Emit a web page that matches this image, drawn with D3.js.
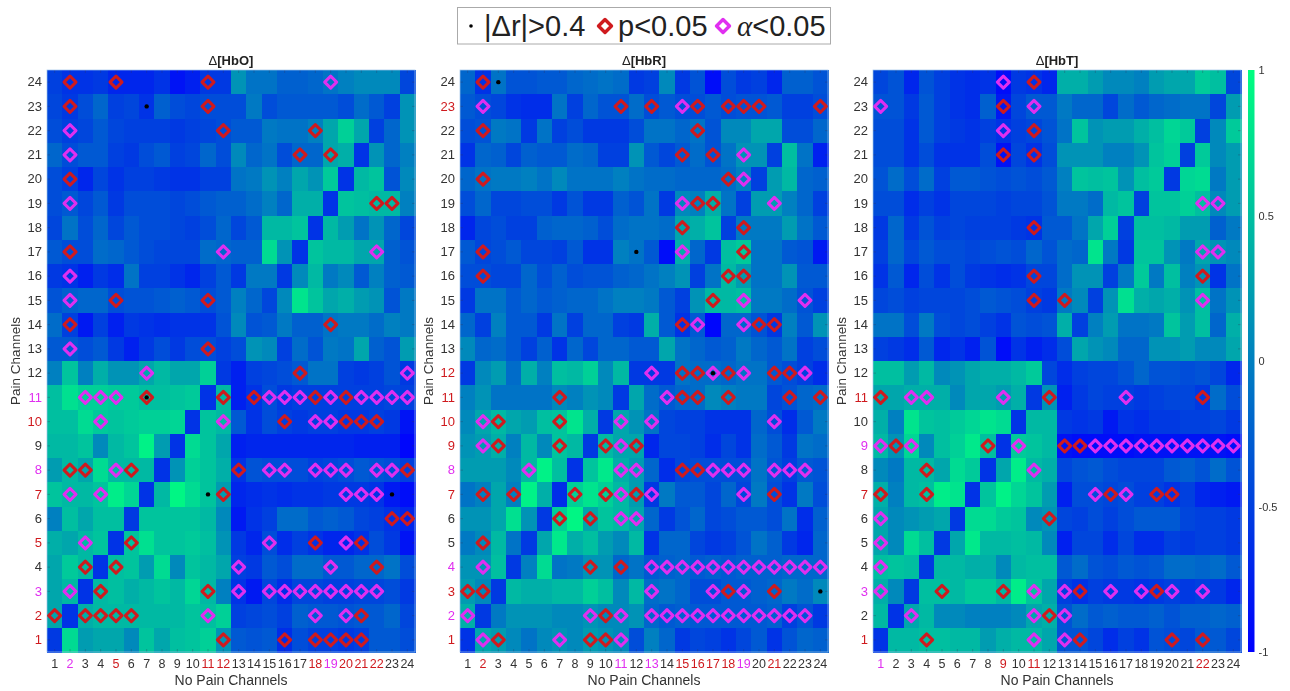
<!DOCTYPE html>
<html>
<head>
<meta charset="utf-8">
<script src="https://cdn.jsdelivr.net/npm/d3@7"></script>
<style>
  html, body { margin: 0; background: #fff; }
  svg { display: block; font-family: "Liberation Sans", Arial, sans-serif; filter: blur(0.5px); }
</style>
</head>
<body>
<svg id="chart" width="1290" height="691"></svg>
<script>
const channels = d3.range(1, 25);

// each list runs from channel 24 (top row) to channel 1, columns 1 to 24
const hboValues = [
  [-.5,-.6,-.6,-.55,-.7,-.7,-.7,-.6,-.85,-.75,-.55,-.55,.1,-.1,-.1,-.25,-.25,-.2,-.1,0,.05,.05,.05,-.45],
  [-.45,-.55,-.4,-.2,-.5,-.45,-.6,-.25,-.4,-.45,-.4,-.4,-.4,-.05,-.4,-.3,-.3,-.3,-.3,-.4,-.15,-.3,-.5,.1],
  [-.4,-.5,-.45,-.3,-.45,-.5,-.5,-.5,-.55,-.5,-.45,-.4,-.3,-.3,-.05,-.1,-.1,0,.2,.5,.2,-.5,-.2,.1],
  [-.2,-.4,-.3,-.3,-.5,-.55,-.4,-.3,-.5,-.45,-.2,-.4,.05,-.2,-.1,-.4,-.2,-.2,.2,.25,-.6,.1,-.2,0],
  [-.4,-.5,-.7,-.45,-.6,-.5,-.5,-.55,-.6,-.6,-.5,-.5,-.1,-.05,.1,0,.2,.1,.45,-.6,.3,.4,-.35,.05],
  [-.4,-.3,-.45,-.3,-.55,-.4,-.4,-.4,-.45,-.4,-.3,-.25,-.25,-.15,0,-.2,.25,.25,-.6,.4,.35,.3,.3,0],
  [-.45,-.1,-.4,-.2,-.45,-.3,-.4,-.4,-.45,-.5,-.4,-.2,-.45,-.3,.3,.3,.4,-.6,.3,.15,-.1,.1,-.2,-.45],
  [-.3,-.4,-.4,-.15,-.2,-.3,-.4,-.45,-.45,-.45,-.15,-.2,-.25,-.25,.6,.1,-.6,.4,.3,.3,.2,.2,-.25,-.35],
  [-.55,-.6,-.75,-.55,-.65,-.1,-.5,-.5,-.6,-.7,-.5,-.3,-.55,-.05,-.05,-.55,.05,.3,-.05,.05,-.3,0,-.25,-.3],
  [-.35,-.25,-.2,-.2,-.4,-.35,-.35,-.3,-.25,-.3,-.4,-.3,0,-.2,-.45,.05,.7,.4,.2,.25,.15,.1,-.35,-.05],
  [-.15,-.5,-.8,-.5,-.75,-.55,-.6,-.65,-.6,-.6,-.6,-.35,.05,-.35,-.3,-.05,-.25,-.25,-.1,-.05,-.05,-.15,0,-.05],
  [-.3,-.3,-.4,-.3,-.55,-.75,-.55,-.4,-.55,-.4,-.4,-.5,-.4,.1,.05,-.5,-.15,-.35,-.05,-.1,.2,-.25,-.35,.15],
  [0,.4,0,.25,.1,.1,.2,.3,.2,.2,.5,-.55,-.75,-.5,-.45,-.4,-.3,-.1,-.1,-.5,-.55,-.5,-.35,-.55],
  [.35,.65,.5,.5,.45,.45,.35,.35,.4,.45,-.6,.3,-.75,-.6,-.4,-.55,-.5,-.5,-.5,-.5,-.5,-.5,-.45,-.5],
  [.35,.35,.6,.45,.4,.45,.5,.5,.55,-.6,.4,.3,-.3,-.6,-.4,-.5,-.55,-.5,-.5,-.55,-.55,-.5,-.55,-.85],
  [.3,.3,.4,.05,.3,.4,.85,.15,-.6,.6,.4,.2,-.75,-.7,-.7,-.7,-.7,-.7,-.7,-.7,-.75,-.75,-.75,-.95],
  [.15,.3,.2,.6,.3,.3,.3,-.6,.1,.5,.4,.25,-.6,-.35,-.4,-.4,-.4,-.5,-.45,-.4,-.3,-.35,-.4,-.5],
  [.4,.3,.3,.4,.8,.55,-.6,.3,.9,.6,.4,.15,-.7,-.65,-.6,-.65,-.6,-.6,-.55,-.55,-.55,-.6,-.8,-.9],
  [0,.35,.2,.35,.35,-.55,.4,.4,.4,.4,.3,.05,-.8,-.6,-.5,-.15,-.15,-.3,-.25,-.3,-.45,-.5,-.6,-.7],
  [.25,.2,.3,.4,-.6,.4,.65,.4,.4,.45,.35,.1,-.55,-.7,-.4,-.65,-.5,-.6,-.7,-.7,-.6,-.4,-.55,-.85],
  [.2,.45,.3,-.6,.35,.4,.15,.6,.05,.4,.3,.2,-.5,-.55,-.3,-.4,-.15,-.15,-.3,-.3,-.2,-.2,-.1,-.4],
  [.2,.3,-.6,.3,.35,.25,.3,.4,.3,.55,.3,0,-.6,-.8,-.45,-.65,-.45,-.45,-.5,-.5,-.45,-.45,-.4,-.55],
  [.2,-.6,.25,.3,.3,.3,.3,.3,.3,.4,.35,.5,-.5,-.45,-.4,-.5,-.25,-.3,-.3,-.35,-.3,-.3,-.2,-.45],
  [-.55,.6,.15,.2,.2,.05,.4,.2,.35,.4,.5,.1,-.3,-.35,-.3,-.65,-.4,-.5,-.5,-.55,-.5,-.3,-.3,-.4]
];
const hbrValues = [
  [-.2,-.6,-.1,-.35,-.35,-.3,-.3,-.2,-.15,-.1,-.15,-.55,-.5,.05,-.55,-.35,-.9,-.4,-.55,-.5,-.7,-.25,-.25,-.35],
  [-.3,-.4,-.45,-.6,-.65,-.65,-.1,-.5,-.2,-.35,-.35,-.15,-.4,-.3,-.4,-.4,-.3,-.4,-.35,-.35,-.3,-.5,-.5,-.4],
  [-.4,-.35,-.05,-.1,-.55,-.1,-.5,-.4,-.55,-.55,-.55,-.4,-.1,-.1,-.2,-.1,-.35,.05,.05,.2,.2,-.4,-.4,-.2],
  [-.6,-.2,-.25,-.45,-.25,-.3,-.3,-.15,-.2,-.5,-.5,.1,-.3,-.45,-.3,-.15,-.35,-.1,.1,.1,-.5,.35,-.1,-.75],
  [-.2,-.1,-.05,-.05,0,-.1,.05,-.1,-.1,-.1,0,-.1,-.15,-.15,-.2,-.2,-.2,-.15,0,-.5,.15,.3,-.2,-.25],
  [-.4,-.2,-.45,-.45,-.4,-.4,-.55,-.35,-.55,-.55,-.25,-.35,-.1,-.55,.05,0,.25,-.1,-.5,.15,.15,0,-.2,-.5],
  [-.7,-.45,-.4,-.5,-.5,-.25,-.2,-.2,-.25,-.4,-.15,-.1,-.1,-.15,.2,.25,.4,-.5,-.05,-.05,-.05,.15,-.1,-.3],
  [-.3,-.45,-.4,-.3,-.45,-.45,-.5,-.3,-.6,-.6,0,-.1,-.3,-.9,.25,-.2,-.55,.35,.45,-.1,-.1,-.3,-.35,-.8],
  [-.4,-.4,-.45,-.45,-.2,-.4,-.25,-.4,-.35,-.35,-.25,-.2,-.1,0,.1,-.5,-.1,.3,.15,-.1,-.1,.1,-.3,-.3],
  [-.55,-.1,-.1,-.3,-.2,-.3,-.25,-.2,-.2,-.1,0,0,-.05,-.3,-.5,.1,.3,.3,.35,-.05,-.05,-.15,-.35,-.5],
  [-.2,-.5,0,-.3,-.3,-.55,-.1,-.5,-.2,-.2,-.5,-.55,.25,-.3,-.6,-.3,-.95,-.2,-.2,-.35,-.55,0,-.3,.1],
  [.05,-.2,-.15,-.3,-.5,-.25,-.6,-.2,-.45,-.2,-.2,-.3,-.3,.2,-.1,-.2,-.3,-.25,-.05,-.2,-.3,-.1,-.5,-.4],
  [-.55,.05,.15,-.15,.25,0,.35,.3,.5,.05,.3,-.55,-.55,-.55,-.1,-.15,-.15,-.2,-.1,-.1,-.3,-.4,-.5,-.65],
  [0,.1,-.1,-.1,-.1,-.1,.05,0,.1,.05,-.55,.2,-.15,-.3,-.2,-.15,.05,0,-.05,-.05,-.45,-.35,-.2,-.15],
  [.05,.2,.3,.2,.15,.35,.4,.7,.25,-.55,.2,.1,-.1,-.45,-.5,-.5,-.6,-.6,-.6,-.2,-.4,-.65,-.3,-.05],
  [.1,.15,.25,0,.3,.05,.4,.3,-.55,.3,.2,.2,-.7,-.45,-.45,-.5,-.65,-.45,-.6,-.15,-.3,-.55,-.1,-.15],
  [.15,.15,.15,.05,.3,.85,.35,-.6,.4,.75,.25,.15,-.2,-.65,-.45,-.4,-.4,-.4,-.4,-.1,-.35,-.5,-.3,-.35],
  [-.1,0,.2,0,.85,.25,-.65,.5,.7,.5,.3,.15,-.55,-.05,-.3,-.3,-.45,-.2,-.45,-.05,-.4,-.6,-.05,-.4],
  [.1,.1,.2,.65,.1,-.55,.5,.9,.2,.4,.3,.2,-.2,-.55,-.35,-.2,-.45,-.4,-.3,-.3,-.4,-.1,-.65,-.25],
  [-.05,.05,.3,-.1,-.55,.2,.75,.25,.35,.15,.05,.3,-.6,-.2,-.2,-.45,-.55,-.5,-.35,-.1,-.25,-.55,-.7,-.2],
  [.1,.1,.35,-.55,0,.6,-.1,-.05,.1,.1,-.2,-.1,-.3,-.25,-.2,-.3,-.25,-.3,-.25,-.25,-.25,-.2,-.2,-.2],
  [.15,.05,-.55,.3,.25,.25,.3,.3,.5,.35,.05,.3,-.15,-.1,-.2,-.4,-.4,-.3,-.3,-.25,-.2,-.05,-.15,.05],
  [.25,-.55,-.05,.1,.1,.1,.05,.05,.1,.05,.05,.1,-.2,-.3,-.25,-.3,-.3,-.3,-.3,-.3,-.25,-.5,-.35,-.55],
  [-.6,.2,.15,.05,-.1,.05,.1,.05,.15,.1,.05,-.4,0,-.2,-.55,-.45,-.5,-.6,-.45,-.3,-.6,-.35,-.2,-.25]
];
const hbtValues = [
  [-.45,-.35,-.7,-.35,-.5,-.6,-.65,-.6,-.9,-.55,-.6,-.7,.25,.25,.15,.05,.05,0,.15,.2,.2,.45,.35,-.45],
  [-.35,-.35,-.55,-.3,-.5,-.6,-.65,-.25,-.8,-.45,-.3,-.3,-.05,-.2,-.2,-.45,-.15,-.3,-.2,-.15,-.1,-.1,-.45,.15],
  [-.4,-.4,-.6,-.3,-.5,-.55,-.6,-.5,-.6,-.5,-.45,-.35,-.1,.4,.1,.15,.15,.25,.35,.55,.45,-.5,.05,.45],
  [-.4,-.4,-.6,-.4,-.6,-.6,-.6,-.4,-.85,-.45,-.6,-.4,.1,.1,.1,0,0,.1,.4,.5,-.5,.45,.05,.15],
  [-.35,-.15,-.4,-.15,-.5,-.3,-.3,-.35,-.4,-.35,-.4,-.3,0,.4,.35,.4,.1,.35,.45,-.55,.55,.6,-.05,.15],
  [-.4,-.4,-.65,-.5,-.6,-.45,-.45,-.45,-.5,-.45,-.45,-.35,-.05,-.05,-.15,.3,.4,-.5,.4,.4,.5,.35,.05,.15],
  [-.55,-.2,-.55,-.35,-.5,-.45,-.5,-.5,-.5,-.55,-.6,-.3,-.3,-.1,.2,.5,-.5,.35,.35,.3,.15,.15,-.25,-.05],
  [-.5,-.2,-.45,-.3,-.4,-.4,-.45,-.4,-.35,-.4,-.2,-.35,-.15,-.2,.7,-.05,-.55,.4,.4,.1,-.05,.2,.1,.05],
  [-.6,-.3,-.7,-.4,-.6,-.4,-.55,-.6,-.65,-.6,-.45,-.45,-.15,.1,.1,-.5,-.05,.45,-.05,.35,0,.1,-.6,-.1],
  [-.45,-.4,-.5,-.45,-.45,-.45,-.4,-.3,-.35,-.4,-.5,-.55,-.05,.05,-.5,.1,.65,.25,.2,.25,.1,.35,-.1,.1],
  [-.1,-.1,-.4,-.05,-.4,-.45,-.4,-.5,-.6,-.35,-.4,-.35,.25,-.5,0,.15,-.1,-.1,-.05,.4,.15,.35,-.2,.25],
  [-.5,-.55,-.65,-.3,-.7,-.6,-.75,-.35,-.9,-.6,-.75,-.65,-.4,.2,.1,.05,-.2,-.2,.1,.1,.15,.05,.05,.2],
  [.35,.35,.15,.3,.05,.1,.2,.25,.25,.3,.45,-.45,-.65,-.5,-.45,-.45,-.35,-.2,-.35,-.35,-.4,-.35,-.45,-.7],
  [.2,.2,.25,.25,.25,.05,.2,.2,.15,.25,-.55,.1,-.75,-.55,-.45,-.5,-.5,-.55,-.5,-.45,-.45,-.55,-.15,-.4],
  [.25,0,.7,.4,.35,.45,.55,.7,.6,-.6,.3,.3,-.55,-.6,-.55,-.8,-.6,-.65,-.55,-.55,-.5,-.5,-.45,-.55],
  [.3,.1,.55,.05,.35,.5,.75,.35,-.6,.45,.4,.3,-.85,-.9,-.9,-.9,-.9,-.85,-.85,-.85,-.85,-.85,-.85,-.9],
  [.05,-.05,.3,.3,.2,.6,.45,-.6,.2,.8,.3,.25,-.45,-.35,-.3,-.4,-.45,-.45,-.45,-.3,-.25,-.35,-.15,-.35],
  [.25,0,.3,.35,.8,.7,-.6,.4,.85,.55,.4,.15,-.75,-.4,-.4,-.45,-.4,-.5,-.5,-.6,-.5,-.7,-.75,-.8],
  [.2,.05,.1,.15,.2,-.55,.6,.6,.45,.4,.05,.1,-.45,-.5,-.4,-.5,-.4,-.3,-.3,-.3,-.45,-.5,-.5,-.55],
  [.2,.05,.6,.35,-.55,.2,.75,.3,.3,.35,.3,.05,-.75,-.45,-.45,-.65,-.45,-.65,-.65,-.5,-.55,-.5,-.5,-.55],
  [.35,.4,.35,-.55,.3,.3,.25,.25,.05,.3,.35,.35,-.3,-.15,-.35,-.4,-.3,-.35,-.3,-.15,-.15,-.2,-.15,-.3],
  [.25,.05,-.55,.35,.35,.3,.45,.45,.3,.8,.4,.2,-.5,-.6,-.5,-.55,-.55,-.6,-.55,-.5,-.55,-.5,-.55,-.7],
  [.3,-.6,.2,.3,.05,.05,0,0,0,.05,.2,.25,-.35,-.15,-.3,-.25,-.3,-.3,-.25,-.35,-.25,-.25,-.2,-.25],
  [-.6,.3,.3,.35,.35,.3,.3,.15,.25,.3,.3,.2,-.35,-.35,-.45,-.65,-.5,-.6,-.35,-.4,-.45,-.3,-.3,-.45]
];

// significance marks: [no pain channel, pain channel]
const hboP = [[2,24],[5,24],[11,24],[2,23],[11,23],[12,22],[18,22],[17,21],[19,21],[2,20],[22,19],[23,19],[2,17],[5,15],[11,15],[2,14],[19,14],[11,13],[17,12],[7,11],[12,11],[14,11],[18,11],[20,11],[16,10],[20,10],[21,10],[22,10],[2,8],[3,8],[6,8],[13,8],[24,8],[12,7],[23,6],[24,6],[6,5],[18,5],[21,5],[3,4],[5,4],[22,4],[4,3],[11,3],[1,2],[3,2],[4,2],[5,2],[6,2],[21,2],[12,1],[16,1],[18,1],[19,1],[20,1],[21,1]];
const hboAlpha = [[19,24],[2,22],[2,21],[2,19],[12,17],[22,17],[2,16],[2,15],[2,13],[7,12],[24,12],[3,11],[4,11],[5,11],[15,11],[16,11],[17,11],[19,11],[21,11],[22,11],[23,11],[24,11],[4,10],[12,10],[18,10],[19,10],[5,8],[15,8],[16,8],[18,8],[19,8],[20,8],[22,8],[23,8],[2,7],[4,7],[20,7],[21,7],[22,7],[3,5],[15,5],[20,5],[13,4],[19,4],[2,3],[13,3],[15,3],[16,3],[17,3],[18,3],[19,3],[20,3],[21,3],[22,3],[11,2],[18,2],[20,2]];
const hboDots = [[7,23],[7,11],[11,7],[23,7]];
const hbrP = [[2,24],[11,23],[13,23],[16,23],[18,23],[19,23],[20,23],[24,23],[2,22],[16,22],[15,21],[17,21],[2,20],[18,20],[16,19],[17,19],[15,18],[19,18],[2,17],[19,17],[2,16],[18,16],[19,16],[17,15],[15,14],[20,14],[21,14],[15,12],[16,12],[18,12],[21,12],[22,12],[7,11],[15,11],[16,11],[18,11],[22,11],[24,11],[3,10],[7,10],[3,9],[7,9],[10,9],[12,9],[15,8],[16,8],[2,7],[4,7],[8,7],[10,7],[12,7],[21,7],[7,6],[9,6],[2,5],[9,4],[11,4],[1,3],[2,3],[18,3],[21,3],[10,2],[3,1],[9,1],[10,1]];
const hbrAlpha = [[2,23],[15,23],[19,21],[19,20],[15,19],[21,19],[15,17],[19,15],[23,15],[16,14],[19,14],[13,12],[17,12],[19,12],[23,12],[14,11],[2,10],[11,10],[13,10],[21,10],[2,9],[11,9],[5,8],[11,8],[12,8],[17,8],[18,8],[19,8],[21,8],[22,8],[23,8],[11,7],[13,7],[19,7],[11,6],[12,6],[2,4],[13,4],[14,4],[15,4],[16,4],[17,4],[18,4],[19,4],[20,4],[21,4],[22,4],[23,4],[24,4],[13,3],[17,3],[19,3],[1,2],[9,2],[11,2],[13,2],[14,2],[15,2],[16,2],[17,2],[18,2],[19,2],[20,2],[21,2],[22,2],[23,2],[2,1],[7,1],[11,1]];
const hbrDots = [[3,24],[12,17],[17,12],[24,3]];
const hbtP = [[11,24],[9,23],[11,22],[9,21],[11,21],[11,18],[11,16],[22,16],[11,15],[13,15],[1,11],[12,11],[22,11],[2,9],[8,9],[13,9],[14,9],[4,8],[1,7],[4,7],[16,7],[19,7],[20,7],[12,6],[5,3],[9,3],[14,3],[19,3],[12,2],[4,1],[14,1],[20,1],[22,1]];
const hbtAlpha = [[9,24],[1,23],[11,23],[9,22],[22,19],[23,19],[22,17],[23,17],[22,15],[3,11],[4,11],[9,11],[17,11],[1,9],[3,9],[10,9],[15,9],[16,9],[17,9],[18,9],[19,9],[20,9],[21,9],[22,9],[23,9],[24,9],[11,8],[15,7],[17,7],[1,6],[1,5],[1,4],[1,3],[11,3],[13,3],[16,3],[18,3],[20,3],[22,3],[3,2],[11,2],[13,2],[11,1],[13,1]];
const hbtDots = [];

// coloured tick labels
const hboXRed = [5,11,12,18,20,21,22], hboXMag = [2,19];
const hboYRed = [10,7,5,2,1], hboYMag = [11,8,3];
const hbrXRed = [2,15,16,17,18,21], hbrXMag = [11,13,19];
const hbrYRed = [23,12,11,10,9,7,3,1], hbrYMag = [8,4,2];
const hbtXRed = [9,11,22], hbtXMag = [1];
const hbtYRed = [11,7,1], hbtYMag = [9,3];

const colorbarTicks = [1, 0.5, 0, -0.5, -1];

const RED = "#cf1a1e", MAG = "#e02ff0", TICK = "#333", FRAME = "#9fc4e8";
const svg = d3.select("#chart");
const color = d3.scaleLinear().domain([-1, 1]).range(["#0000ff", "#00ff80"]);
// my readings of the greener cells came out low against the colorbar, so the cells get a stretched upper half
const cellColor = v => color(v > 0 ? d3.scaleLinear().domain([0, .3, .6, 1]).range([0, .45, .72, 1]).clamp(true)(v) : v);
const top_ = 70, bottom = 652;
const diamond = (cx, cy, r) => `M${cx},${cy - r}L${cx + r},${cy}L${cx},${cy + r}L${cx - r},${cy}Z`;

function drawPanel(left, right, title, values, pMarks, alphaMarks, dots, xRed, xMag, yRed, yMag) {
  const x = d3.scaleBand().domain(channels).range([left, right]);
  const y = d3.scaleBand().domain(channels.slice().reverse()).range([top_, bottom]);
  const g = svg.append("g");

  values.forEach((row, i) => {
    const ch = 24 - i;
    g.selectAll(null).data(row).join("rect")
      .attr("x", (d, j) => x(j + 1))
      .attr("y", y(ch))
      .attr("width", x.bandwidth() + 0.5)
      .attr("height", y.bandwidth() + 0.5)
      .attr("shape-rendering", "crispEdges")
      .attr("fill", d => cellColor(d));
  });

  const tickColor = (red, mag) => d => red.includes(d) ? RED : mag.includes(d) ? MAG : TICK;
  const styleAxis = a => {
    a.attr("font-family", null);
    a.select(".domain").remove();
    a.selectAll(".tick line").attr("stroke", "#335").attr("stroke-opacity", 0.3);
  };

  const xAxis = g.append("g").attr("transform", `translate(0,${bottom})`)
    .call(d3.axisBottom(x).tickSizeInner(-3).tickSizeOuter(0).tickPadding(7)).call(styleAxis);
  xAxis.selectAll("text").attr("font-size", 12.5).attr("fill", tickColor(xRed, xMag));

  const yAxis = g.append("g").attr("transform", `translate(${left},0)`)
    .call(d3.axisLeft(y).tickSizeInner(-3).tickSizeOuter(0).tickPadding(5)).call(styleAxis);
  yAxis.selectAll("text").attr("font-size", 13).attr("fill", tickColor(yRed, yMag));

  // faint ticks on the top and right edges as well
  g.append("g").attr("transform", `translate(0,${top_})`)
    .call(d3.axisTop(x).tickSizeInner(-3).tickSizeOuter(0).tickFormat("")).call(styleAxis);
  g.append("g").attr("transform", `translate(${right},0)`)
    .call(d3.axisRight(y).tickSizeInner(-3).tickSizeOuter(0).tickFormat("")).call(styleAxis);

  // box around the axes
  g.append("rect").attr("x", left).attr("y", top_).attr("width", right - left).attr("height", bottom - top_)
    .attr("fill", "none").attr("stroke", FRAME).attr("stroke-width", 0.7);

  const drawMarks = (marks, stroke) => g.selectAll(null).data(marks).join("path")
    .attr("d", d => diamond(x(d[0]) + x.bandwidth() / 2, y(d[1]) + y.bandwidth() / 2, 6))
    .attr("fill", "none").attr("stroke", stroke).attr("stroke-width", 3).attr("stroke-linejoin", "round");
  drawMarks(alphaMarks, MAG);
  drawMarks(pMarks, RED);

  g.selectAll(null).data(dots).join("circle")
    .attr("cx", d => x(d[0]) + x.bandwidth() / 2)
    .attr("cy", d => y(d[1]) + y.bandwidth() / 2)
    .attr("r", 2.2).attr("fill", "#000");

  const head = g.append("text").attr("x", (left + right) / 2).attr("y", 65).attr("text-anchor", "middle")
    .attr("font-size", 13).attr("fill", "#222");
  head.append("tspan").text("\u0394");
  head.append("tspan").attr("font-weight", "bold").text("[" + title + "]");
  g.append("text").attr("x", (left + right) / 2).attr("y", 685).attr("text-anchor", "middle")
    .attr("font-size", 14).attr("fill", "#333").text("No Pain Channels");
  g.append("text").attr("transform", `translate(${left - 27},361) rotate(-90)`).attr("text-anchor", "middle")
    .attr("font-size", 13.5).attr("fill", "#333").text("Pain Channels");
}

drawPanel(47, 415, "HbO", hboValues, hboP, hboAlpha, hboDots, hboXRed, hboXMag, hboYRed, hboYMag);
drawPanel(460, 828, "HbR", hbrValues, hbrP, hbrAlpha, hbrDots, hbrXRed, hbrXMag, hbrYRed, hbrYMag);
drawPanel(873, 1241, "HbT", hbtValues, hbtP, hbtAlpha, hbtDots, hbtXRed, hbtXMag, hbtYRed, hbtYMag);

// colorbar
const cbScale = d3.scaleLinear().domain([-1, 1]).range([bottom, top_]);
const grad = svg.append("defs").append("linearGradient").attr("id", "cb")
  .attr("x1", 0).attr("y1", 1).attr("x2", 0).attr("y2", 0);
grad.append("stop").attr("offset", 0).attr("stop-color", color(-1));
grad.append("stop").attr("offset", 1).attr("stop-color", color(1));
svg.append("rect").attr("x", 1248).attr("y", top_).attr("width", 6.5).attr("height", bottom - top_).attr("fill", "url(#cb)");
const cb = svg.append("g").attr("transform", "translate(1254.5,0)")
  .call(d3.axisRight(cbScale).tickValues(colorbarTicks).tickFormat(d => d).tickSizeInner(0).tickSizeOuter(0).tickPadding(4));
cb.attr("font-family", null);
cb.select(".domain").remove();
cb.selectAll("text").attr("font-size", 11).attr("fill", TICK);

// legend
const legend = svg.append("g");
legend.append("rect").attr("x", 457.5).attr("y", 7.5).attr("width", 373).attr("height", 36.5)
  .attr("fill", "#fff").attr("stroke", "#aaa").attr("stroke-width", 1);
legend.append("circle").attr("cx", 471).attr("cy", 26).attr("r", 1.8).attr("fill", "#000");
const legendText = (tx, parts) => {
  const t = legend.append("text").attr("x", tx).attr("y", 36).attr("font-size", 29).attr("fill", "#222");
  parts.forEach(p => t.append("tspan").attr("font-family", p[1] ? '"Liberation Serif", serif' : null)
    .attr("font-style", p[1] ? "italic" : null).text(p[0]));
};
legendText(484, [["|\u0394r|>0.4", false]]);
legend.append("path").attr("d", diamond(605, 26, 6.5)).attr("fill", "none").attr("stroke", RED).attr("stroke-width", 3.4).attr("stroke-linejoin", "round");
legendText(618, [["p<0.05", false]]);
legend.append("path").attr("d", diamond(723, 26, 6.5)).attr("fill", "none").attr("stroke", MAG).attr("stroke-width", 3.4).attr("stroke-linejoin", "round");
legendText(737, [["\u03b1", true], ["<0.05", false]]);
</script>
</body>
</html>
